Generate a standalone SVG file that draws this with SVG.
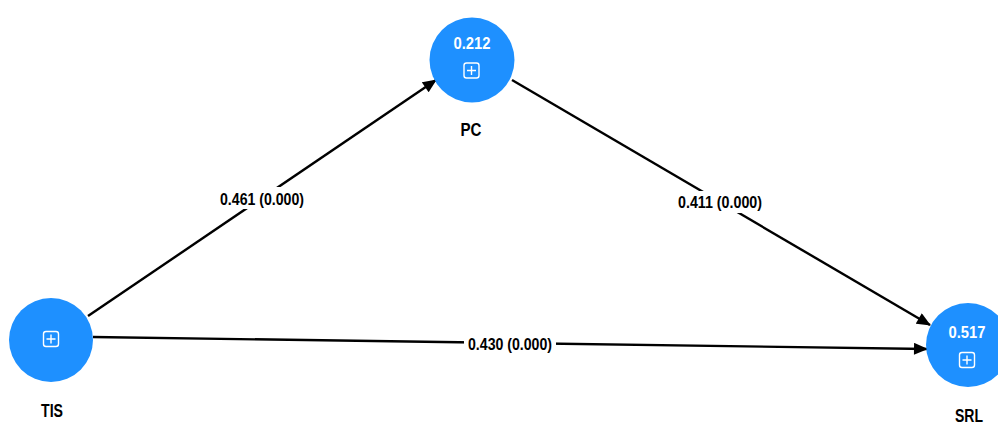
<svg xmlns="http://www.w3.org/2000/svg" width="998" height="427" viewBox="0 0 998 427">
<style>
.node{fill:#1e90ff;}
.val{font-family:"Liberation Sans",Arial,sans-serif;font-weight:bold;font-size:16px;fill:#ffffff;text-anchor:middle;}
.name{font-family:"Liberation Sans",Arial,sans-serif;font-weight:bold;font-size:18px;fill:#000000;text-anchor:middle;}
.edge{stroke:#000;stroke-width:2.4;fill:none;}
.lbl{font-family:"Liberation Sans",Arial,sans-serif;font-weight:bold;font-size:16px;fill:#000;text-anchor:middle;}
.lblbg{fill:#fff;}
.icon{fill:none;stroke:#fff;stroke-width:1.4;}
</style>
<defs>
<marker id="arr" viewBox="0 0 14 12" refX="13" refY="6" markerWidth="15" markerHeight="12" markerUnits="userSpaceOnUse" orient="auto">
<path d="M0,0 L14,6 L0,12 z" fill="#000"/>
</marker>
<g id="plus">
<rect class="icon" x="-7.5" y="-7.5" width="15" height="15" rx="2.5"/>
<path class="icon" d="M0,-4.5 V4.5 M-4.5,0 H4.5"/>
</g>
</defs>
<g id="connectors">
<line class="edge" x1="88" y1="316" x2="436" y2="80" marker-end="url(#arr)"/>
<line class="edge" x1="93" y1="337" x2="927" y2="349" marker-end="url(#arr)"/>
<line class="edge" x1="512" y1="80" x2="930" y2="325" marker-end="url(#arr)"/>
<rect class="lblbg" x="218" y="187" width="89" height="22"/>
<text class="lbl" x="262" y="205" textLength="84" lengthAdjust="spacingAndGlyphs">0.461 (0.000)</text>
<rect class="lblbg" x="464" y="333" width="92" height="22"/>
<text class="lbl" x="510" y="350" textLength="84" lengthAdjust="spacingAndGlyphs">0.430 (0.000)</text>
<rect class="lblbg" x="676" y="191" width="89" height="22"/>
<text class="lbl" x="720" y="208" textLength="84" lengthAdjust="spacingAndGlyphs">0.411 (0.000)</text>
</g>
<g id="node-PC">
<circle class="node" cx="472" cy="60" r="42.5"/>
<text class="val" x="472" y="49" textLength="37" lengthAdjust="spacingAndGlyphs">0.212</text>
<use href="#plus" x="471.5" y="70.5"/>
<text class="name" x="471" y="136" textLength="21" lengthAdjust="spacingAndGlyphs">PC</text>
</g>
<g id="node-TIS">
<circle class="node" cx="51" cy="340" r="42"/>
<use href="#plus" x="51" y="339"/>
<text class="name" x="52" y="417" textLength="22" lengthAdjust="spacingAndGlyphs">TIS</text>
</g>
<g id="node-SRL">
<circle class="node" cx="968" cy="345" r="42"/>
<text class="val" x="967" y="338" textLength="37" lengthAdjust="spacingAndGlyphs">0.517</text>
<use href="#plus" x="967" y="360"/>
<text class="name" x="969" y="422" textLength="28" lengthAdjust="spacingAndGlyphs">SRL</text>
</g>
</svg>
